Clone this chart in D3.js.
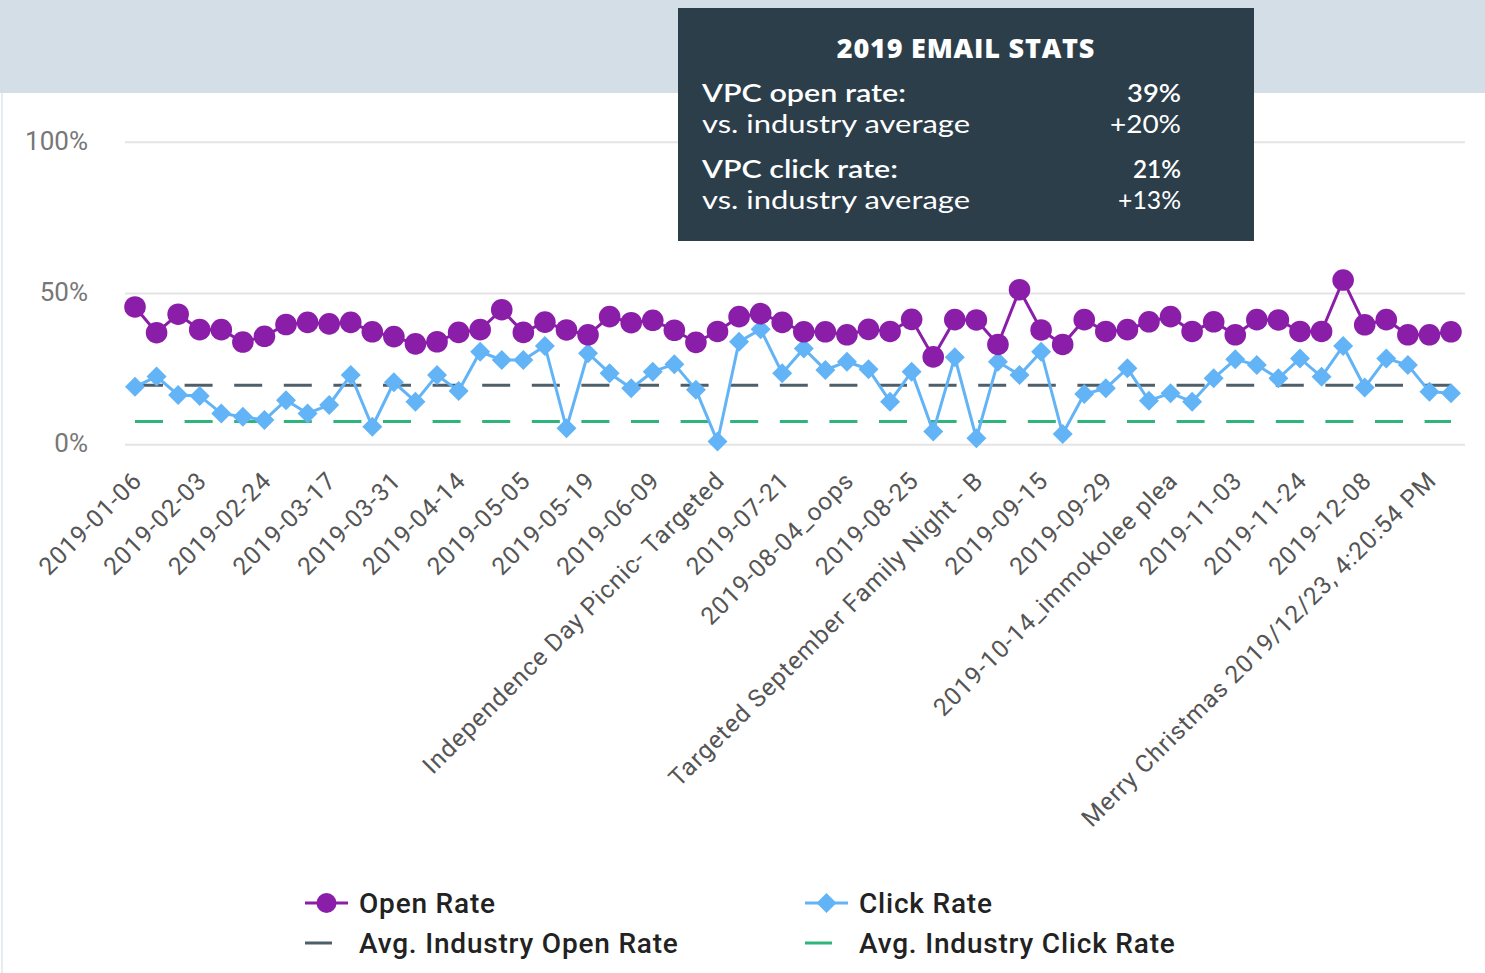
<!DOCTYPE html>
<html><head><meta charset="utf-8">
<script src="https://cdn.jsdelivr.net/npm/d3@7"></script>
<style>body{margin:0;background:#fff;} svg{display:block;}</style>
</head><body><svg id="c" width="1485" height="973"></svg>
<script>
// ---------- data ----------
const tickLabels = [
  "2019-01-06","2019-02-03","2019-02-24","2019-03-17","2019-03-31","2019-04-14",
  "2019-05-05","2019-05-19","2019-06-09","Independence Day Picnic- Targeted","2019-07-21",
  "2019-08-04_oops","2019-08-25","Targeted September Family Night - B","2019-09-15",
  "2019-09-29","2019-10-14_immokolee plea","2019-11-03","2019-11-24","2019-12-08",
  "Merry Christmas 2019/12/23, 4:20:54 PM"
];
const tickEvery = 3;
const openRate = [
  45.4,36.9,43.0,37.9,37.9,33.8,35.7,39.6,40.3,39.8,40.3,37.2,35.6,33.2,33.9,37.0,
  37.9,44.5,37.0,40.4,37.8,36.2,42.2,40.2,41.0,37.7,33.7,37.3,42.2,43.2,40.3,37.2,
  37.2,36.2,38.0,37.3,41.3,28.9,41.2,41.1,33.0,51.1,37.8,33.0,41.2,37.3,37.9,40.5,
  42.2,37.3,40.5,36.2,41.2,41.1,37.3,37.3,54.3,39.5,41.2,36.2,36.2,37.2
];
const clickRate = [
  19.0,22.4,16.3,16.0,10.2,9.1,8.0,14.6,10.2,13.0,22.9,5.8,20.5,14.1,22.9,17.6,
  30.6,27.9,27.9,32.5,5.3,30.1,23.5,18.5,24.0,26.5,18.0,0.9,33.9,38.0,23.5,31.7,
  24.6,27.3,24.8,14.1,24.0,4.2,28.8,2.0,27.3,22.9,30.6,3.4,16.6,18.5,25.1,14.4,
  16.9,14.1,21.8,28.1,26.2,21.8,28.4,22.3,32.5,18.8,28.4,26.2,17.4,16.9
];
const industryOpen = 19.5;
const industryClick = 7.5;
const yTicks = [0, 50, 100];
const seriesNames = ["Open Rate","Click Rate","Avg. Industry Open Rate","Avg. Industry Click Rate"];
const statsTitle = "2019 EMAIL STATS";
const statsLabels = ["VPC open rate:","vs. industry average","VPC click rate:","vs. industry average"];
const statsValues = ["39%","+20%","21%","+13%"];

// ---------- styles / layout ----------
const C = {open:"#8a1ea8", click:"#62b4f6", indOpen:"#4f5f69", indClick:"#2fb47c",
           banner:"#d3dee6", box:"#2b3e4a", grid:"#e4e4e4", axis:"#777", label:"#555"};
const statsRowY = [102, 133, 178, 209];
const statsLabelW = [204, 268, 196, 268];
const statsValueW = [54, 71, 48, 63];

const svg = d3.select("#c");
svg.append("rect").attr("x",0).attr("y",0).attr("width",1485).attr("height",93).attr("fill",C.banner);
svg.append("line").attr("x1",2).attr("x2",2).attr("y1",93).attr("y2",973).attr("stroke","#e6ecf0").attr("stroke-width",2);

const idx = d3.range(openRate.length);
const x = d3.scalePoint().domain(idx).range([135, 1451]);
const y = d3.scaleLinear().domain([0, 100]).range([444.3, 141.8]);

// gridlines + y labels
const yAxis = d3.axisLeft(y).tickValues(yTicks).tickFormat(d => d + "%").tickSize(-1340).tickPadding(37);
const gy = svg.append("g").attr("transform","translate(125,0)").call(yAxis);
gy.select(".domain").remove();
gy.selectAll(".tick line").attr("stroke",C.grid).attr("stroke-width",2);
gy.selectAll(".tick text").attr("fill",C.axis).attr("dy","0.28em")
  .style("font-family","Roboto, sans-serif").style("font-size","26px");

// x labels
const xAxis = d3.axisBottom(x).tickValues(idx.filter(i => i % tickEvery === 0))
  .tickFormat(i => tickLabels[i / tickEvery]).tickSize(0).tickPadding(0);
const gx = svg.append("g").attr("transform","translate(0,444)").call(xAxis);
gx.select(".domain").remove();
gx.selectAll(".tick text")
  .attr("fill",C.label).style("font-family","Roboto, sans-serif").style("font-size","24.5px")
  .style("letter-spacing","1px")
  .attr("text-anchor","end").attr("dy",null).attr("y",null)
  .attr("transform","translate(8,38) rotate(-45)");

// industry dashed lines
[[industryOpen, C.indOpen],[industryClick, C.indClick]].forEach(([v,c]) => {
  svg.append("line").attr("x1", x(0)).attr("x2", x(idx.length-1))
    .attr("y1", y(v)).attr("y2", y(v)).attr("stroke", c).attr("stroke-width",3)
    .attr("stroke-dasharray","28 21.6");
});

// click series
const line = d3.line().x((d,i) => x(i)).y(d => y(d));
svg.append("path").datum(clickRate).attr("d", line).attr("fill","none")
  .attr("stroke",C.click).attr("stroke-width",3);
const diamond = d3.symbol().type(d3.symbolSquare).size(200);
svg.append("g").selectAll("path").data(clickRate).join("path")
  .attr("d", diamond).attr("fill",C.click)
  .attr("transform",(d,i) => `translate(${x(i)},${y(d)}) rotate(45)`);

// open series
svg.append("path").datum(openRate).attr("d", line).attr("fill","none")
  .attr("stroke",C.open).attr("stroke-width",3);
svg.append("g").selectAll("circle").data(openRate).join("circle")
  .attr("cx",(d,i) => x(i)).attr("cy", d => y(d)).attr("r",10.8).attr("fill",C.open);

// stats box
svg.append("rect").attr("x",678).attr("y",8).attr("width",576).attr("height",233).attr("fill",C.box);
svg.append("text").attr("x",966).attr("y",58).attr("text-anchor","middle").attr("fill","#fff")
  .style("font-family","'Open Sans', sans-serif").style("font-weight",800).style("font-size","27px")
  .style("letter-spacing","0.8px")
  .text(statsTitle);
statsLabels.forEach((t,i) => {
  const w = i % 2 === 0 ? 600 : 400;
  svg.append("text").attr("x",702).attr("y",statsRowY[i]).attr("fill","#fff")
    .attr("textLength", statsLabelW[i]).attr("lengthAdjust","spacingAndGlyphs")
    .style("font-family","Lato, sans-serif").style("font-size","25.5px")
    .style("font-weight", w).text(t);
  svg.append("text").attr("x",1181 - statsValueW[i]).attr("y",statsRowY[i]).attr("fill","#fff")
    .attr("textLength", statsValueW[i]).attr("lengthAdjust","spacingAndGlyphs")
    .style("font-family","Lato, sans-serif").style("font-size","25.5px")
    .style("font-weight", w).text(statsValues[i]);
});

// legend
const leg = [
  {name:seriesNames[0], x:305, y:903, c:C.open, type:"circle"},
  {name:seriesNames[1], x:805, y:903, c:C.click, type:"diamond"},
  {name:seriesNames[2], x:305, y:943, c:C.indOpen, type:"dash"},
  {name:seriesNames[3], x:805, y:943, c:C.indClick, type:"dash"}
];
leg.forEach(l => {
  const g = svg.append("g");
  if (l.type === "dash") {
    g.append("line").attr("x1",l.x).attr("x2",l.x+27).attr("y1",l.y).attr("y2",l.y)
      .attr("stroke",l.c).attr("stroke-width",3);
  } else {
    g.append("line").attr("x1",l.x).attr("x2",l.x+43).attr("y1",l.y).attr("y2",l.y)
      .attr("stroke",l.c).attr("stroke-width",3);
    if (l.type === "circle") g.append("circle").attr("cx",l.x+21.5).attr("cy",l.y).attr("r",10).attr("fill",l.c);
    else g.append("path").attr("d",diamond).attr("fill",l.c).attr("transform",`translate(${l.x+21.5},${l.y}) rotate(45)`);
  }
  g.append("text").attr("x",l.x+54).attr("y",l.y+10).attr("fill","#222")
    .style("font-family","Roboto, sans-serif").style("font-size","28px").style("font-weight",500)
    .style("letter-spacing","0.8px")
    .text(l.name);
});
</script>
</body></html>
